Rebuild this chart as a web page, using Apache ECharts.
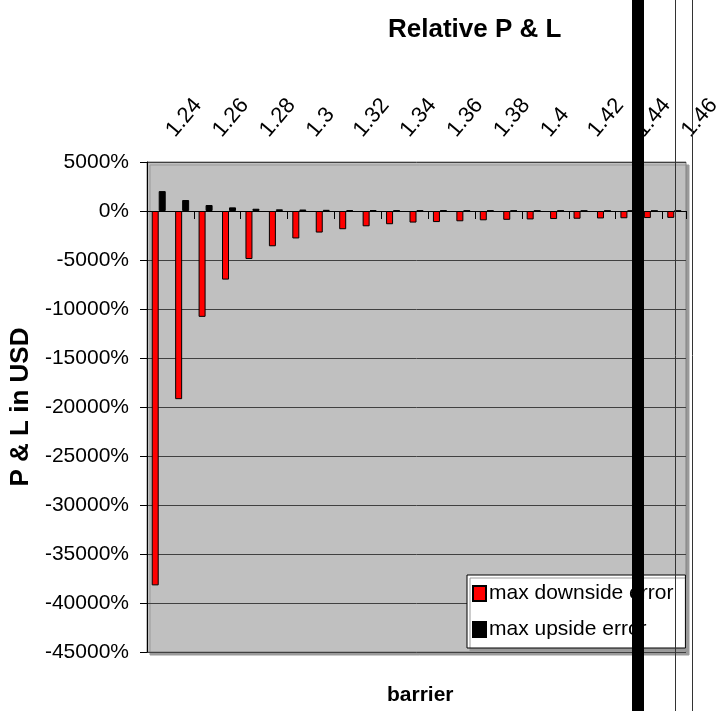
<!DOCTYPE html>
<html>
<head>
<meta charset="utf-8">
<script src="https://cdn.jsdelivr.net/npm/echarts@6/dist/echarts.min.js"></script>
<style>
html,body{margin:0;padding:0;background:#fff;}
#chart{width:721px;height:711px;}
</style>
</head>
<body>
<div id="chart"></div>
<script>
const categories = ['1.24','1.25','1.26','1.27','1.28','1.29','1.3','1.31','1.32','1.33','1.34','1.35','1.36','1.37','1.38','1.39','1.4','1.41','1.42','1.43','1.44','1.45','1.46'];
const downsideError = [-38200,-19200,-10800,-7000,-4900,-3600,-2800,-2200,-1860,-1560,-1350,-1180,-1130,-1050,-950,-900,-860,-820,-790,-760,-740,-720,-700];
const upsideError = [2030,1120,610,370,230,170,150,120,100,90,80,70,65,60,55,50,45,45,40,40,35,35,30];
const yTicks = {min:-45000, max:5000, step:5000};

const FONT = '"Liberation Sans", Arial, sans-serif';
const chart = echarts.init(document.getElementById('chart'), null, {renderer:'canvas'});
chart.setOption({
  animation:false,
  backgroundColor:'#ffffff',
  textStyle:{fontFamily:FONT},
  title:[
    {text:'Relative P & L', left:383, top:12, textStyle:{fontFamily:FONT, fontSize:26, fontWeight:'bold', color:'#000'}},
    {text:'barrier', left:382, top:680, textStyle:{fontFamily:FONT, fontSize:21, fontWeight:'bold', color:'#000'}}
  ],
  grid:{left:147, right:35, top:162, bottom:59, show:true, containLabel:false, outerBoundsMode:'none',
        backgroundColor:'#C0C0C0', borderColor:'#808080', borderWidth:1,
        shadowColor:'#9a9a9a', shadowOffsetX:3, shadowOffsetY:3, shadowBlur:0},
  legend:{
    orient:'vertical', left:467, top:575, width:214,
    backgroundColor:'#ffffff', borderColor:'#000', borderWidth:1,
    shadowColor:'#9a9a9a', shadowOffsetX:3, shadowOffsetY:3, shadowBlur:0,
    padding:[8,12,8,5], itemWidth:13, itemHeight:15, itemGap:15,
    icon:'rect',
    textStyle:{fontFamily:FONT, fontSize:21, color:'#000', padding:[0,0,0,-2]},
    data:['max downside error','max upside error']
  },
  xAxis:[
    {type:'category', data:categories, position:'bottom',
     axisLine:{show:true, onZero:true, lineStyle:{color:'#000', width:1}},
     axisTick:{show:true, length:8, lineStyle:{color:'#000'}},
     axisLabel:{show:false}, splitLine:{show:false}},
    {type:'category', data:categories, position:'top',
     axisLine:{show:false, onZero:false}, axisTick:{show:false},
     axisLabel:{show:true, interval:1, rotate:-50, fontFamily:FONT, fontSize:22, color:'#000', margin:14, padding:[0,0,0,18]},
     splitLine:{show:false}}
  ],
  yAxis:{
    type:'value', min:yTicks.min, max:yTicks.max, interval:yTicks.step,
    name:'P & L in USD', nameLocation:'middle', nameRotate:90, nameGap:108,
    nameTextStyle:{fontFamily:FONT, fontSize:26, fontWeight:'bold', color:'#000'},
    axisLine:{show:true, lineStyle:{color:'#000', width:1}},
    axisTick:{show:true, length:7, lineStyle:{color:'#000'}},
    axisLabel:{fontFamily:FONT, fontSize:21, color:'#000', margin:18, formatter:v=>v+'%'},
    splitLine:{show:true, lineStyle:{color:'#404040', width:1}}
  },
  series:[
    {name:'max downside error', type:'bar', xAxisIndex:0, data:downsideError, barWidth:7, barGap:'0%',
     itemStyle:{color:'#FF0000', borderColor:'#000', borderWidth:1}},
    {name:'max upside error', type:'bar', xAxisIndex:0, data:upsideError, barWidth:7, barGap:'0%',
     itemStyle:{color:'#000000', borderColor:'#000', borderWidth:1}}
  ],
  graphic:[
    {type:'rect', z:100, shape:{x:632, y:0, width:12, height:711}, style:{fill:'#000'}},
    {type:'line', z:100, shape:{x1:675.5, y1:0, x2:675.5, y2:711}, style:{stroke:'#333', lineWidth:1}},
    {type:'line', z:100, shape:{x1:692.5, y1:0, x2:692.5, y2:711}, style:{stroke:'#333', lineWidth:1}}
  ]
});
</script>
</body>
</html>
